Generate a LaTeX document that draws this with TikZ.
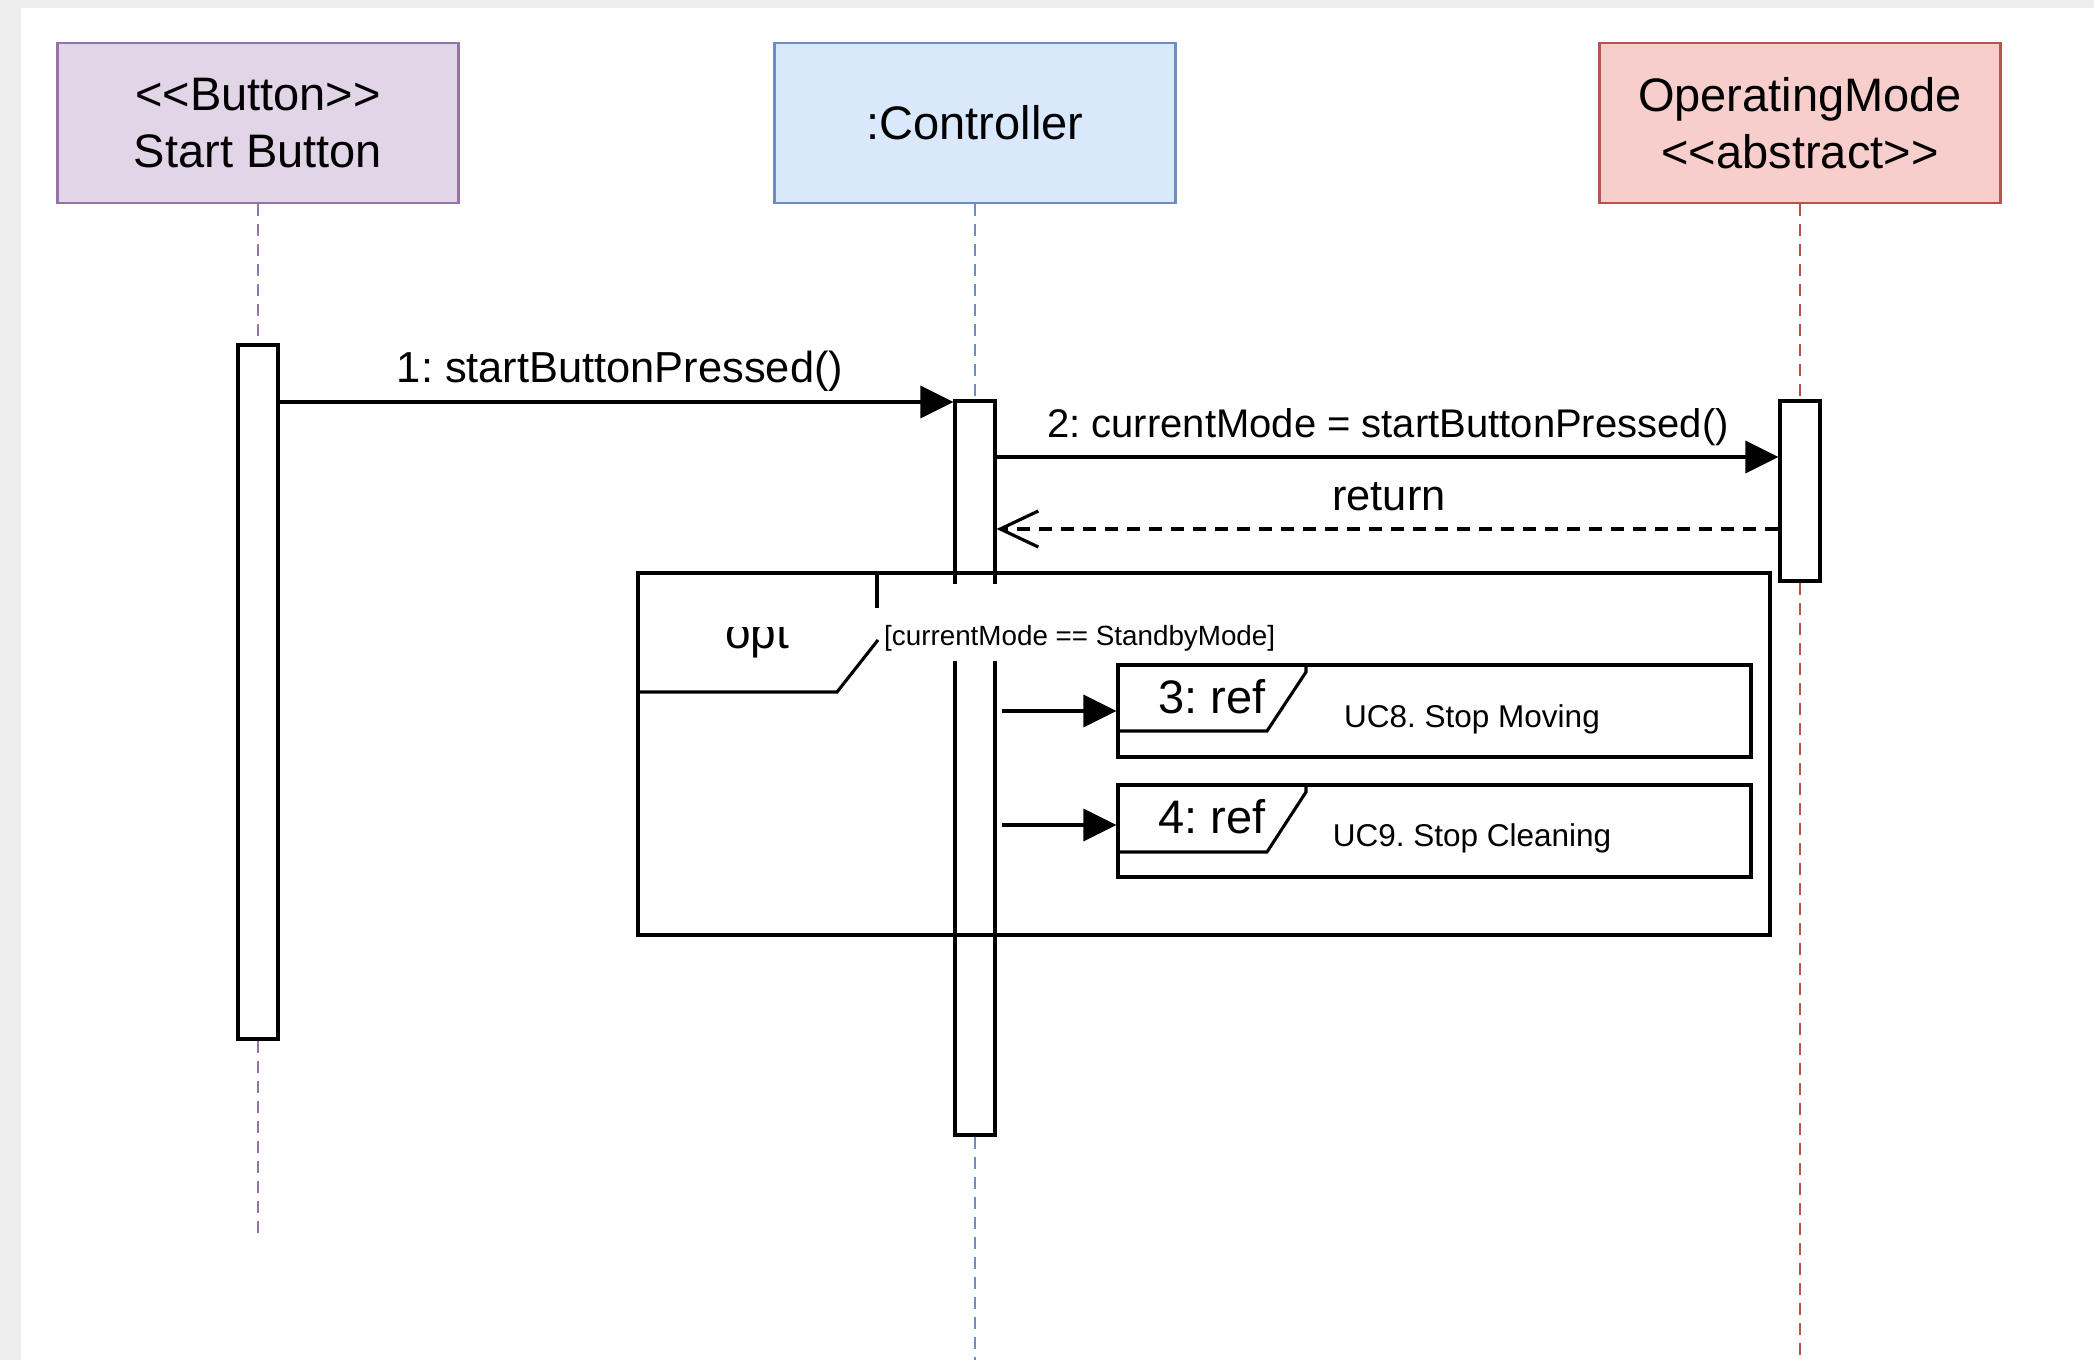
\documentclass[tikz,border=0pt]{standalone}
\usepackage{fontspec}
\newfontfamily\lsans{Liberation Sans}
\usetikzlibrary{arrows.meta}
\definecolor{bggray}{HTML}{EDEDED}
\definecolor{pfill}{HTML}{E1D5E7}
\definecolor{pline}{HTML}{9673A6}
\definecolor{bfill}{HTML}{DAE8FC}
\definecolor{bline}{HTML}{6C8EBF}
\definecolor{rfill}{HTML}{F8CECC}
\definecolor{rline}{HTML}{B85450}
\frenchspacing
\begin{document}
\begin{tikzpicture}[x=1pt,y=-1pt,
  hdr/.style={draw, line width=2.8pt, minimum width=401pt, minimum height=160pt, inner sep=0pt, align=center, font=\lsans\fontsize{47}{57}\selectfont},
  actbar/.style={draw=black, line width=3.1pt, fill=white, minimum width=40pt, inner sep=0pt},
  lifeline/.style={line width=2.5pt, dash pattern=on 12pt off 8pt},
  msg/.style={draw=black, line width=3.2pt, -{Triangle[length=33pt,width=32pt]}},
  ret/.style={draw=black, line width=3.2pt, dash pattern=on 13pt off 9pt, -{Straight Barb[length=38pt,width=36pt,line width=3.2pt]}},
  frm/.style={draw=black, line width=3.1pt},
  refbox/.style={draw=black, line width=3.1pt, fill=white, minimum width=633pt, minimum height=92pt, inner sep=0pt},
  lblA/.style={inner sep=0pt, anchor=base, font=\lsans\fontsize{43.4}{50}\selectfont},
  lblB/.style={inner sep=0pt, anchor=base, font=\lsans\fontsize{40}{46}\selectfont},
  grd/.style={inner sep=0pt, anchor=base west, font=\lsans\fontsize{27.8}{32}\selectfont},
  optf/.style={inner sep=0pt, anchor=base, font=\lsans\fontsize{46}{52}\selectfont},
  reft/.style={inner sep=0pt, anchor=base, font=\lsans\fontsize{47}{54}\selectfont},
  ucf/.style={inner sep=0pt, anchor=base, font=\lsans\fontsize{31.5}{36}\selectfont}
]
\useasboundingbox (0,0) rectangle (2094,1360);
\fill[bggray] (0,0) rectangle (2094,1360);
\fill[white] (21,8) rectangle (2094,1360);

% headers
\node[hdr, fill=pfill, draw=pline] (sb) at (258,123) {<<Button>>\\Start Button};
\node[hdr, fill=bfill, draw=bline] (ctl) at (975,123) {:Controller};
\node[hdr, fill=rfill, draw=rline] (om) at (1800,123) {OperatingMode\\<<abstract>>};

% lifeline end points
\coordinate (sbend) at (258,1239);
\coordinate (ctlend) at (975,1360);
\coordinate (omend) at (1800,1360);

% activation bars
\node[actbar, minimum height=694pt] (act1) at (258,692) {};
\node[actbar, minimum height=734pt] (act2) at (975,768) {};
\node[actbar, minimum height=180pt] (act3) at (1800,491) {};

% lifelines
\draw[lifeline, pline] (sb.south) -- (act1.north);
\draw[lifeline, pline] (act1.south) -- (sbend);
\draw[lifeline, bline] (ctl.south) -- (act2.north);
\draw[lifeline, bline] (act2.south) -- (ctlend);
\draw[lifeline, rline] (om.south) -- (act3.north);
\draw[lifeline, rline] (act3.south) -- (omend);

% messages
\draw[msg] (act1.east |- 0,402) -- (act2.west |- 0,402);
\node[lblA] (l1) at (620,382) {1: startButtonPressed()};
\draw[msg] (act2.east |- 0,457) -- (act3.west |- 0,457);
\node[lblB] (l2) at (1388,437) {2: currentMode = startButtonPressed()};
\draw[ret] (act3.west |- 0,529) -- (act2.east |- 0,529);
\node[lblA] (l3) at (1389,510) {return};

% opt frame
\draw[frm] (638,573) rectangle (1770,935);
\draw[frm] (877,573) -- (877,608);
\draw[frm] (878,640) -- (837,692) -- (638,692);
\begin{scope}
  \clip (700,627) rectangle (830,680);
  \node[optf] (optlbl) at (757,648) {opt};
\end{scope}
\fill[white] (951,584) rectangle (999,661);
\node[grd] (guard) at (884,645) {[currentMode == StandbyMode]};

% ref boxes
\node[refbox] (ref1) at (1434.5,711) {};
\draw[frm] (1306,665) -- (1306,672) -- (1267,731) -- (1118,731);
\node[reft] (r1t) at (1212,713) {3: ref};
\node[ucf] (r1u) at (1472,727) {UC8. Stop Moving};

\node[refbox] (ref2) at (1434.5,831) {};
\draw[frm] (1306,785) -- (1306,792) -- (1267,852) -- (1118,852);
\node[reft] (r2t) at (1212,833) {4: ref};
\node[ucf] (r2u) at (1472,846) {UC9. Stop Cleaning};

\coordinate (c3) at (1002,711);
\coordinate (c4) at (1002,825);
\draw[msg] (c3) -- (ref1.west);
\draw[msg] (c4) -- (ref2.west |- c4);
\end{tikzpicture}
\end{document}
